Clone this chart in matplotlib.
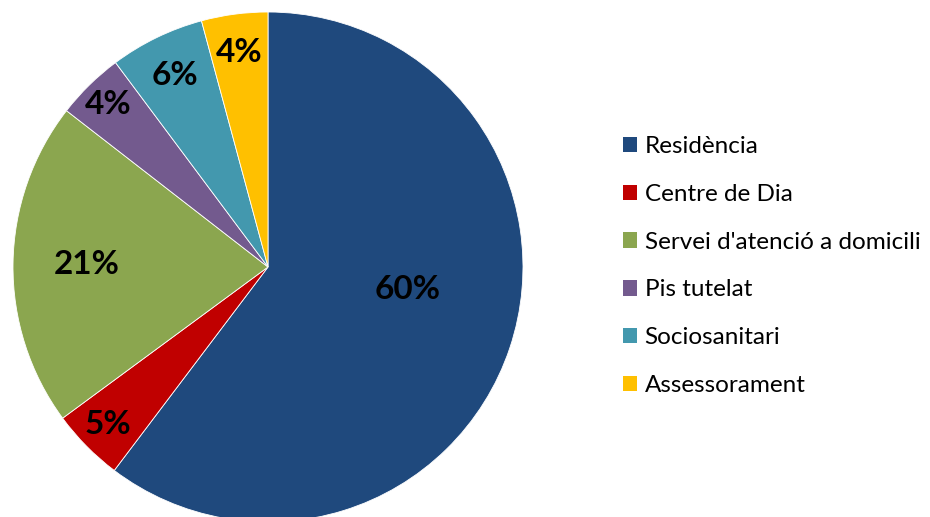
import numpy as np
import matplotlib
matplotlib.use("Agg")
import matplotlib.pyplot as plt
from matplotlib.patches import Patch

categories = ["Residència", "Centre de Dia", "Servei d'atenció a domicili",
              "Pis tutelat", "Sociosanitari", "Assessorament"]
values = [60.3, 4.6, 20.6, 4.3, 6.0, 4.2]
colors = ["#1F497D", "#C00000", "#8BA64F", "#735A8E", "#4398AE", "#FFC000"]

# label placement (radial fraction, angle shift in degrees) -- style only
label_r = [0.553, 0.88, 0.71, 0.895, 0.837, 0.85]
label_shift = [9.5, 0, 0, 0, 0, 0]

plt.rcParams['font.family'] = ['Lato', 'DejaVu Sans']

fig = plt.figure(figsize=(9.3, 5.17), dpi=100)
cx, cy, R = 268, 250, 255
ax = fig.add_axes([(cx - R) / 930, (cy - R) / 517, 2 * R / 930, 2 * R / 517])
wedges, _ = ax.pie(values, colors=colors, startangle=90, counterclock=False,
                   radius=1, wedgeprops=dict(linewidth=0.6, edgecolor='white'))
ax.set_xlim(-1, 1)
ax.set_ylim(-1, 1)
ax.set_aspect('equal')
ax.axis('off')

total = sum(values)
for w, v, r, s in zip(wedges, values, label_r, label_shift):
    ang = np.deg2rad((w.theta1 + w.theta2) / 2 + s)
    ax.text(r * np.cos(ang), r * np.sin(ang), f"{round(v / total * 100):d}%",
            ha='center', va='center', fontsize=24, fontweight='bold', color='black')

handles = [Patch(facecolor=c, edgecolor='none') for c in colors]
fig.legend(handles, categories, loc='center left', bbox_to_anchor=(613 / 930, (517 - 266) / 517),
           frameon=False, fontsize=17.5, handlelength=0.6, handleheight=0.6,
           handletextpad=0.3, labelspacing=1.1, borderaxespad=0)

fig.savefig("out.png", dpi=100)
